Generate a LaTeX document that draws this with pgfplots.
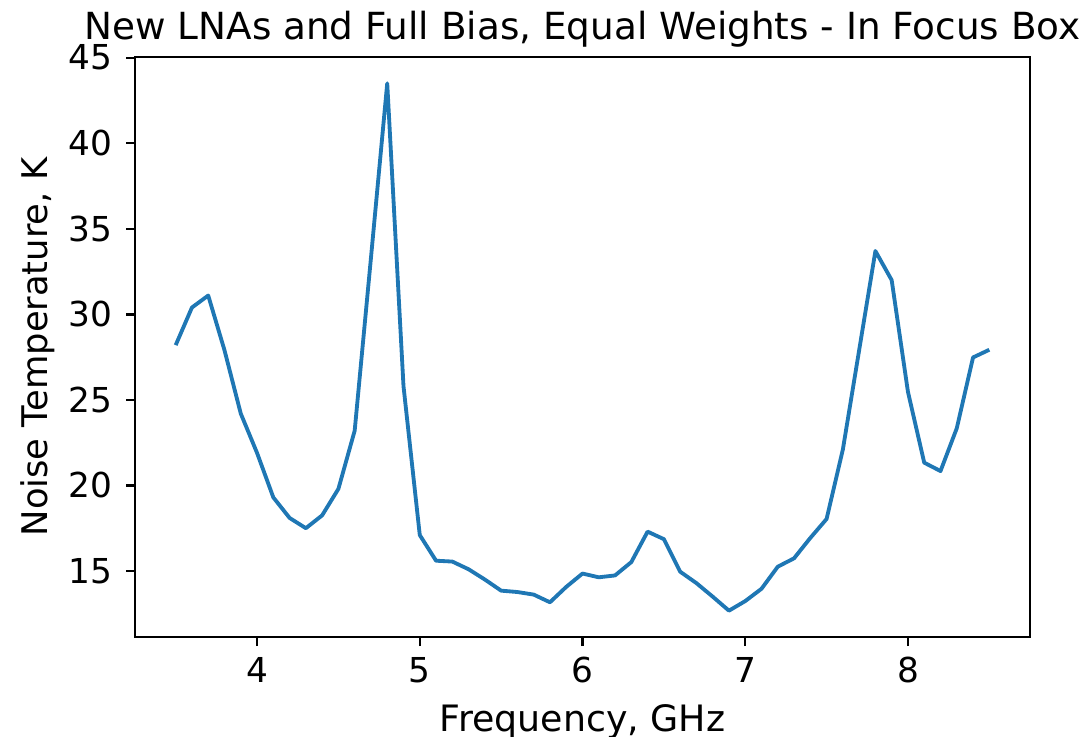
\documentclass[border=0pt]{standalone}
\usepackage{fontspec}
\setmainfont{DejaVu Sans}
\usepackage{pgfplots}
\pgfplotsset{compat=1.18}
\definecolor{mplblue}{HTML}{1F77B4}
\begin{document}
\fontsize{10.6pt}{12.7pt}\selectfont
\begin{tikzpicture}
\begin{axis}[
  at={(0,0)}, anchor=south west,
  scale only axis, width=268.5pt, height=174pt,
  xmin=3.25, xmax=8.75, ymin=11.14, ymax=45.04,
  xtick={4,5,6,7,8}, ytick={15,20,25,30,35,40,45},
  tick align=outside, tick pos=left, major tick length=2.7pt,
  every tick/.style={black, line width=0.7pt},
  axis line style={line width=0.8pt, black},
  /pgf/number format/assume math mode=true,
  ticklabel style={font=\fontsize{10.3pt}{12.4pt}\selectfont},
  xticklabel style={anchor=north, inner sep=0pt, yshift=-3.1pt},
  yticklabel style={anchor=east, inner sep=0pt, xshift=-4pt},
  xlabel={Frequency, GHz},
  ylabel={Noise Temperature, K},
  every axis x label/.style={at={(axis description cs:0.5,-0.1631)}, anchor=base,
    font=\fontsize{10.9pt}{13pt}\selectfont},
  every axis y label/.style={at={(axis description cs:-0.0983,0.5)}, anchor=base, rotate=90,
    font=\fontsize{10.6pt}{13pt}\selectfont},
  title={New LNAs and Full Bias, Equal Weights - In Focus Box},
  every axis title/.style={at={(axis description cs:0.5,1.031)}, anchor=base,
    font=\fontsize{11.2pt}{13.4pt}\selectfont},
]
\addplot[mplblue, line width=1.15pt, line join=round] coordinates {
(3.5,28.2) (3.6,30.4) (3.7,31.1) (3.8,27.9) (3.9,24.2) (4.0,21.9)
(4.1,19.3) (4.2,18.1) (4.3,17.5) (4.4,18.25) (4.5,19.8) (4.6,23.2)
(4.7,33.3) (4.8,43.5) (4.9,25.8) (5.0,17.1) (5.1,15.6) (5.2,15.55)
(5.3,15.1) (5.4,14.5) (5.5,13.85) (5.6,13.77) (5.7,13.62) (5.8,13.17)
(5.9,14.07) (6.0,14.85) (6.1,14.63) (6.2,14.74) (6.3,15.52) (6.4,17.3)
(6.5,16.86) (6.6,14.96) (6.7,14.29) (6.8,13.5) (6.9,12.68) (7.0,13.24)
(7.1,13.96) (7.2,15.25) (7.3,15.74) (7.4,16.93) (7.5,18.04) (7.6,22.1)
(7.7,27.9) (7.8,33.7) (7.9,32.0) (8.0,25.47) (8.1,21.33) (8.2,20.84)
(8.3,23.34) (8.4,27.48) (8.5,27.93)
};
\end{axis}
\pgfresetboundingbox
\useasboundingbox (-40.5pt,-29.7pt) rectangle (285.9pt,191.1pt);
\end{tikzpicture}
\end{document}
